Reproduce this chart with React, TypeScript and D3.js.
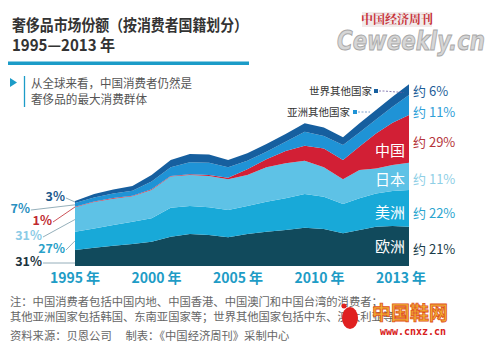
import React from "react";
import * as d3 from "d3";

const years = [1995, 1996, 1997, 1998, 1999, 2000, 2001, 2002, 2003, 2004, 2005, 2006, 2007, 2008, 2009, 2010, 2011, 2012, 2013];
const europe = [19.0, 21.7, 24.1, 26.1, 28.9, 34.8, 37.9, 36.8, 34.0, 37.9, 40.7, 42.7, 45.5, 43.9, 38.7, 42.7, 46.6, 47.4, 46.6];
const americas = [21.7, 22.9, 24.5, 26.5, 27.7, 34.4, 33.2, 32.8, 32.4, 33.2, 35.6, 37.6, 39.9, 38.3, 34.8, 37.6, 39.5, 41.5, 43.5];
const japan = [28.9, 31.2, 31.2, 30.0, 33.6, 36.8, 36.8, 37.2, 36.4, 36.8, 40.7, 41.5, 39.5, 34.8, 29.3, 33.6, 29.6, 30.8, 32.4];
const china = [0.8, 0.8, 0.8, 0.8, 0.8, 0.8, 0.8, 1.2, 2.0, 6.7, 9.5, 14.6, 17.8, 22.5, 22.9, 27.7, 41.5, 50.2, 56.5];
const otherAsia = [4.3, 4.7, 5.5, 5.9, 9.1, 10.3, 14.2, 14.6, 12.3, 10.3, 9.1, 11.1, 16.6, 14.6, 17.8, 16.6, 16.6, 19.0, 23.7];
const restOfWorld = [2.4, 4.0, 4.7, 5.5, 7.9, 8.7, 9.9, 9.5, 8.7, 8.7, 9.1, 9.1, 9.9, 10.3, 9.1, 11.1, 11.1, 11.9, 13.0];

const seriesKeys = ["europe", "americas", "japan", "china", "otherAsia", "restOfWorld"];
const seriesNames = ["欧洲", "美洲", "日本", "中国", "亚洲其他国家", "世界其他国家"];
const startShares = ["31%", "27%", "31%", "1%", "7%", "3%"];
const endShares = ["约 21%", "约 22%", "约 11%", "约 29%", "约 11%", "约 6%"];
const tickLabels = ["1995 年", "2000 年", "2005 年", "2010 年", "2013 年"];

const colors = ["#114a5c", "#18a9d8", "#5ec2e6", "#d21f35", "#1f93d6", "#165f9f"];
const endColors = ["#1b3c4a", "#2aa5cf", "#8fcfe6", "#b5343a", "#2fa0d8", "#1d5d98"];
const startColors = ["#1c3440", "#2aa0c8", "#8ccbe6", "#c0282f", "#2a8fc0", "#1e5a8c"];

const FONT = "'Noto Sans CJK SC', 'Noto Sans', sans-serif";

export default function App() {
  const table = years.map((y, i) => ({
    year: y,
    europe: europe[i],
    americas: americas[i],
    japan: japan[i],
    china: china[i],
    otherAsia: otherAsia[i],
    restOfWorld: restOfWorld[i],
  }));
  const stacked = d3.stack<any>().keys(seriesKeys)(table);
  const x = d3.scaleLinear().domain([1995, 2009, 2013]).range([75, 343, 409]);
  const y = d3.scaleLinear().domain([0, 220]).range([266, 80.5]);
  const area = d3
    .area<any>()
    .x((d) => x(d.data.year))
    .y0((d) => y(d[0]))
    .y1((d) => y(d[1]))
    .curve(d3.curveLinear);
  const tickX = d3.scalePoint<string>().domain(tickLabels).range([75, 401]);

  const last = stacked.map((s) => s[s.length - 1]);
  const first = stacked.map((s) => s[0]);

  const leftLabelPos = [
    { x: 42, y: 262 },
    { x: 65, y: 249 },
    { x: 42, y: 236 },
    { x: 52, y: 221 },
    { x: 30, y: 209 },
    { x: 65, y: 197 },
  ];
  const endLabelY = [249, 213, 179, 142, 112, 91];
  const inLabelY = [247, 213, 180, 151];

  return (
    <svg width={500} height={347} style={{ display: "block", position: "absolute", left: 0, top: 0, background: "#fff" }} fontFamily={FONT}>
      <rect x={0} y={0} width={500} height={347} fill="#fff" />
      {/* watermark top */}
      <text x={337} y={50} fontSize={27} fontWeight="bold" fontStyle="italic" fill="#d6d6d6" stroke="#a8a8a8" strokeWidth={1} fontFamily="'DejaVu Sans', sans-serif" textLength={148} lengthAdjust="spacingAndGlyphs">Ceweekly.cn</text>
      <rect x={362} y={12} width={70} height={15} fill="#efe6e6" opacity={0.85} />
      <text x={397} y={24} textAnchor="middle" fontSize={12} fill="#c8343a" fontWeight="bold" fontFamily="'Noto Serif CJK SC', 'Noto Sans CJK SC', serif">中国经济周刊</text>

      {/* title */}
      <text x={12} y={31} fontSize={15.5} fontWeight="bold" fill="#333" textLength={236} lengthAdjust="spacingAndGlyphs">奢侈品市场份额（按消费者国籍划分）</text>
      <text x={12} y={51} fontSize={16} fontWeight="bold" fill="#333" textLength={103} lengthAdjust="spacingAndGlyphs">1995—2013 年</text>
      <rect x={8} y={61.5} width={241} height={3.5} fill="#1c9cc8" />
      <path d="M10,78 L17,82.5 L10,87 Z" fill="#1c9cc8" />
      <line x1={24.5} y1={76} x2={24.5} y2={107} stroke="#1c9cc8" strokeWidth={1.3} />
      <text x={31} y={88} fontSize={12} fill="#555" textLength={161} lengthAdjust="spacingAndGlyphs">从全球来看，中国消费者仍然是</text>
      <text x={31} y={104} fontSize={12} fill="#555" textLength={116} lengthAdjust="spacingAndGlyphs">奢侈品的最大消费群体</text>

      {/* areas */}
      {stacked.map((s, i) => (
        <path key={seriesKeys[i]} d={area(s) || ""} fill={colors[i]} />
      ))}

      {/* in-chart labels */}
      {inLabelY.map((ly, i) => (
        <text key={"in" + i} x={390} y={ly} dy="0.35em" textAnchor="middle" fontSize={15} fill="#fff">
          {seriesNames[i]}
        </text>
      ))}

      {/* right labels */}
      {endShares.map((t, i) => (
        <text key={"end" + i} x={413} y={endLabelY[i]} dy="0.35em" fontSize={13} fill={endColors[i]}>
          {t}
        </text>
      ))}

      {/* callouts */}
      <text x={372} y={91} dy="0.35em" textAnchor="end" fontSize={10.5} fill="#333">{seriesNames[5]}</text>
      <rect x={374} y={89} width={4} height={4} fill={colors[5]} />
      <path d={`M379,91 L384,91 L${x(2012.7)},${y((last[5][0] + last[5][1]) / 2) + 3}`} fill="none" stroke="#6a5aa0" strokeWidth={0.8} strokeDasharray="2,1.5" />
      <text x={350} y={112} dy="0.35em" textAnchor="end" fontSize={10.5} fill="#333">{seriesNames[4]}</text>
      <rect x={353} y={110} width={4} height={4} fill={colors[4]} />
      <path d={`M358,112 L370,112`} fill="none" stroke="#5a8ac0" strokeWidth={0.8} strokeDasharray="2,1.5" />

      {/* left start labels */}
      {leftLabelPos.map((p, i) => {
        const target = y((first[i][0] + first[i][1]) / 2);
        return (
          <g key={"st" + i}>
            <line x1={p.x + 1} y1={p.y + 1} x2={x(1995)} y2={i === 0 ? 263 : target} stroke={i === 3 ? "#c0282f" : "#7a9aa8"} strokeWidth={0.8} />
            <text x={p.x} y={p.y} dy="0.35em" textAnchor="end" fontSize={12.5} fontWeight="bold" fill={startColors[i]}>
              {startShares[i]}
            </text>
          </g>
        );
      })}

      {/* x axis labels */}
      {tickLabels.map((t) => (
        <text key={t} x={tickX(t)} y={278} dy="0.35em" textAnchor="middle" fontSize={14} fontWeight="bold" fill="#1e9cc6">
          {t}
        </text>
      ))}

      {/* notes */}
      <text x={10} y={302} dy="0.35em" fontSize={11.3} fill="#666">注：中国消费者包括中国内地、中国香港、中国澳门和中国台湾的消费者；</text>
      <text x={10} y={317} dy="0.35em" fontSize={11.3} fill="#666">其他亚洲国家包括韩国、东南亚国家等；世界其他国家包括中东、澳大利亚等</text>
      <text x={10} y={336} dy="0.35em" fontSize={11.3} fill="#666">资料来源：贝恩公司　 制表：《中国经济周刊》采制中心</text>

      {/* bottom watermark */}
      <ellipse cx={350} cy={318} rx={8} ry={11} fill="#e02020" />
      <ellipse cx={344} cy={306} rx={2.5} ry={2.5} fill="#e02020" />
      <text x={410} y={313} dy="0.35em" textAnchor="middle" fontSize={19} fontWeight="bold" fill="#f0b030" stroke="#e05020" strokeWidth={0.8}>中国鞋网</text>
      <text x={413} y={331} dy="0.35em" textAnchor="middle" fontSize={10} fontWeight="bold" fill="#d82020" fontFamily="'DejaVu Sans Mono', monospace">www.cnxz.cn</text>
    </svg>
  );
}
